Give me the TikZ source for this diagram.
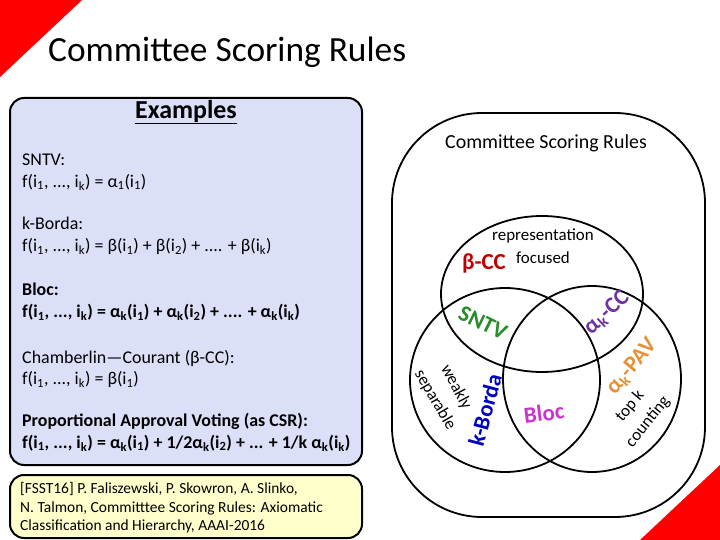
\documentclass[tikz,border=0pt]{standalone}
\usepackage{fontspec}
\setmainfont{Carlito}
\usepackage{xcolor}
\usepackage{tikz}
\tikzset{>=latex}
\usetikzlibrary{
    positioning, % relative placement of nodes
    calc % coordinate calculations
}

% colours taken from the slide
\definecolor{exfill}{RGB}{220,223,248}
\definecolor{reffill}{RGB}{255,255,204}
\definecolor{slidered}{RGB}{255,0,0}
\definecolor{ccred}{RGB}{192,0,0}
\definecolor{sntvgreen}{RGB}{40,140,40}
\definecolor{akccpurple}{RGB}{112,48,160}
\definecolor{pavorange}{RGB}{228,145,56}
\definecolor{blocpink}{RGB}{204,51,204}
\definecolor{bordablue}{RGB}{0,0,192}

\newcommand{\fsize}[2]{\fontsize{#1}{#2}\selectfont}
\newcommand{\isub}[1]{i\textsubscript{#1}}
\newcommand{\asub}[1]{α\textsubscript{#1}}

\tikzset{
  panel/.style={draw=black, line width=2bp, rounded corners=14bp},
  setline/.style={draw=black, line width=1.8bp},
  entry/.style={anchor=west, inner sep=0pt, align=left, font=\fsize{18}{22}},
  tag/.style={font=\bfseries\fsize{23}{26}, inner sep=0pt},
  note/.style={font=\fsize{17}{20}, inner sep=0pt}
}

\begin{document}
\begin{tikzpicture}[x=1bp, y=-1bp]
  \useasboundingbox (0,0) rectangle (720,540);

  % ===================== SLIDE FRAME =====================
  \fill[slidered] (0,0) -- (82,0) -- (0,77) -- cycle;
  \fill[slidered] (720,465) -- (720,540) -- (640,540) -- cycle;
  \node[font=\fsize{35.5}{40}, anchor=base west, inner sep=0pt] (title) at (48,62) {Committee Scoring Rules};

  % ===================== EXAMPLES BOX =====================
  \draw[panel, fill=exfill] (10,98) rectangle (362,465);
  \node[font=\bfseries\fsize{26}{30}, inner sep=0pt] (examples) at (186,112) {\underline{Examples}};

  % one node per rule, top→bottom
  \node[entry] (sntvrule) at (22,172) {SNTV:\\
    f(\isub{1}, ..., \isub{k}) = \asub{1}(\isub{1})};
  \node[entry] (bordarule) at (22,236) {k-Borda:\\
    f(\isub{1}, ..., \isub{k}) = β(\isub{1}) + β(\isub{2}) + .... + β(\isub{k})};
  \node[entry, font=\bfseries\fsize{18}{22}] (blocrule) at (22,302) {Bloc:\\
    f(\isub{1}, ..., \isub{k}) = \asub{k}(\isub{1}) + \asub{k}(\isub{2}) + .... + \asub{k}(\isub{k})};
  \node[entry] (ccrule) at (22,369) {Chamberlin—Courant (β-CC):\\
    f(\isub{1}, ..., \isub{k}) = β(\isub{1})};
  \node[entry, font=\bfseries\fsize{18}{22}] (pavrule) at (22,432) {Proportional Approval Voting (as CSR):\\
    f(\isub{1}, ..., \isub{k}) = \asub{k}(\isub{1}) + 1/2\asub{k}(\isub{2}) + ... + 1/k \asub{k}(\isub{k})};

  % ===================== REFERENCE BOX =====================
  \draw[panel, fill=reffill] (10,475) rectangle (362,538);
  \node[entry, font=\fsize{15.5}{18.5}] (fsst) at (20,508) {[FSST16] P. Faliszewski, P. Skowron, A. Slinko,\\
    N. Talmon, Committtee Scoring Rules: Axiomatic\\
    Classification and Hierarchy, AAAI-2016};

  % ===================== HIERARCHY (right) =====================
  \draw[setline, rounded corners=90bp] (392,113) rectangle (705,517);
  \node[font=\fsize{20}{24}] (csr) at (546,143) {Committee Scoring Rules};

  % three overlapping classes
  \draw[setline] (542,294) ellipse [x radius=101, y radius=78]; % representation focused
  \draw[setline] (505,380) ellipse [x radius=95, y radius=92];  % weakly separable
  \draw[setline] (592,379) ellipse [x radius=89, y radius=93];  % top k counting

  % class names
  \node[note] (repr) at (543,236) {representation};
  \node[note] (focus) at (543,258) {focused};
  \node[note, rotate=-62] (weakly) at (456,387) {weakly};
  \node[note, rotate=-60] (separable) at (435,400) {separable};
  \node[note, rotate=50] (topk) at (630,406) {top k};
  \node[note, rotate=51] (counting) at (648,422) {counting};

  % rules placed in the regions
  \node[tag, text=ccred] (betacc) at (484,263) {β-CC};
  \node[tag, text=sntvgreen, rotate=-26] (sntv) at (483,323) {SNTV};
  \node[tag, text=akccpurple, rotate=43] (akcc) at (607,313) {\asub{k}-CC};
  \node[tag, text=pavorange, rotate=50] (akpav) at (632,367) {\asub{k}-PAV};
  \node[tag, text=blocpink, rotate=7] (bloc) at (544,413) {Bloc};
  \node[tag, text=bordablue, rotate=75] (kborda) at (485,410) {k-Borda};
\end{tikzpicture}
\end{document}
